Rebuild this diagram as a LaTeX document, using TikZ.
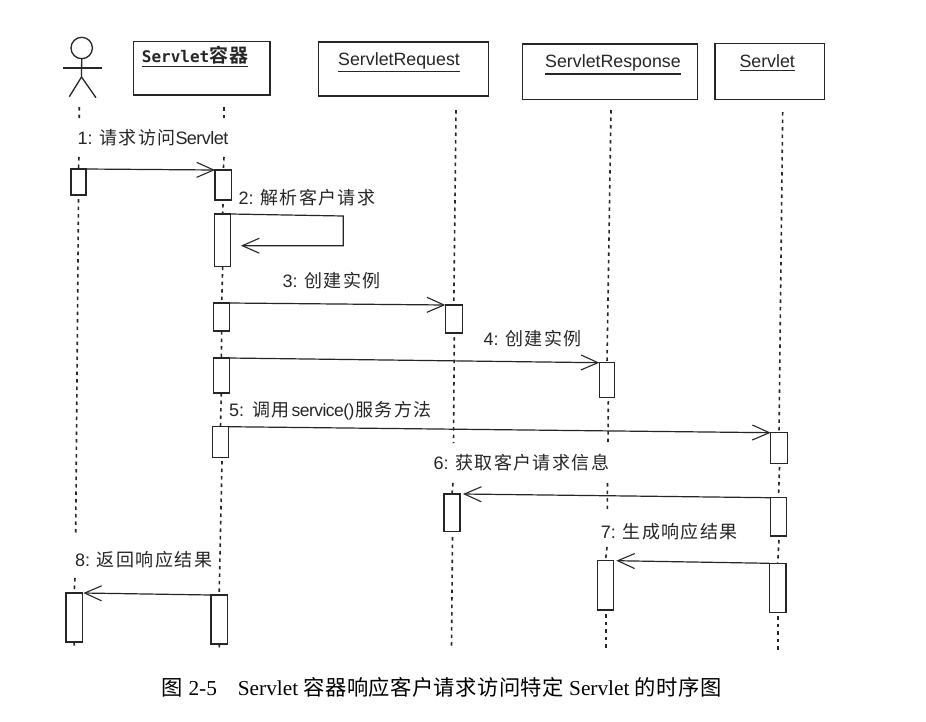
\documentclass[tikz,border=0pt]{standalone}
\usepackage{fontspec}
\usetikzlibrary{arrows.meta}
\setmainfont{Liberation Sans}
\newfontfamily\cjk[LetterSpace=8]{Noto Sans CJK SC}
\newfontfamily\cjkbold[LetterSpace=5]{Noto Sans CJK SC Bold}
\newfontfamily\capcjk[LetterSpace=2]{Noto Sans CJK SC}
\newfontfamily\monob{DejaVu Sans Mono Bold}
\newfontfamily\capserif{Liberation Serif}
\newfontfamily\tight[LetterSpace=-3]{Liberation Sans}
\definecolor{ink}{HTML}{262626}
% rectangle node given by its corners
\newcommand\rectnode[6]{%
  \pgfmathsetmacro\rw{#5-#3}\pgfmathsetmacro\rh{#6-#4}%
  \pgfmathsetmacro\rx{(#5+#3)/2}\pgfmathsetmacro\ry{(#6+#4)/2}%
  \node[#1,minimum width=\rw pt,minimum height=\rh pt] (#2) at (\rx,\ry) {};}
\newcommand\ulbox[1]{\vtop{\hbox{#1}\kern2.2pt\hrule height 1.3pt}}
\tikzset{
  x=1pt,y=-1pt,
  headbox/.style={draw=ink,line width=1.4pt,inner sep=0pt,outer sep=0pt},
  actbox/.style={draw=ink,line width=1.3pt,fill=white,inner sep=0pt,outer sep=0pt},
  life/.style={draw=ink,line width=1.6pt,dash pattern=on 3.5pt off 4pt},
  msg/.style={draw=ink,line width=1.2pt,-{Straight Barb[length=17pt,width=15pt,line width=1.1pt]}},
  lab/.style={anchor=base west,inner sep=0pt,text=ink,font=\fontsize{18}{20}\selectfont},
  head/.style={anchor=base west,inner sep=0pt,text=ink,font=\fontsize{17.8}{20}\selectfont},
  stick/.style={draw=ink,line width=1.3pt},
  caption/.style={anchor=base west,inner sep=0pt,text=black,font=\fontsize{21.3}{24}\capserif}
}
\begin{document}
\begin{tikzpicture}
\useasboundingbox (0,0) rectangle (926,721);
\fill[white] (0,0) rectangle (926,721);

% actor figure
\node[circle,stick,minimum size=21.4pt,inner sep=0pt,outer sep=0pt] (head) at (81.7,48) {};
\coordinate (armL) at (63.3,68);
\coordinate (armR) at (101.7,68);
\coordinate (hip) at (81.5,77);
\coordinate (legL) at (69.3,96.7);
\coordinate (legR) at (96,97.7);
\draw[stick] (head.south) -- (hip);
\draw[stick] (armL) -- (armR);
\draw[stick] (legL) -- (hip) -- (legR);

% object headers
\rectnode{headbox}{hc}{133.3}{41.7}{270}{95}
\rectnode{headbox}{hq}{318.3}{42}{488.3}{96}
\rectnode{headbox}{hp}{522.3}{44}{697.7}{99.3}
\rectnode{headbox}{hs}{715}{43.3}{824.3}{99.3}
\node[head] (tc) at (141.7,62) {\ulbox{\fontsize{16}{18}\monob Servlet\fontsize{19}{20}\cjkbold 容器}};
\node[head] (tq) at (338,65) {\ulbox{ServletRequest}};
\node[head] (tp) at (545,67.5) {\ulbox{ServletResponse}};
\node[head] (ts) at (739.3,67.5) {\ulbox{Servlet}};

% activation bars
\rectnode{actbox}{a1}{71}{169}{86}{195}
\rectnode{actbox}{a2}{66}{593}{82.3}{642}
\rectnode{actbox}{c1}{215}{170}{231.7}{200}
\rectnode{actbox}{c2}{214.7}{214}{230.7}{266.7}
\rectnode{actbox}{c3}{213.7}{303}{229.7}{331}
\rectnode{actbox}{c4}{213.3}{358}{229.3}{393}
\rectnode{actbox}{c5}{212.3}{426.7}{228.7}{457.3}
\rectnode{actbox}{c6}{211}{595}{227.3}{644}
\rectnode{actbox}{q1}{445.3}{305}{462.3}{333}
\rectnode{actbox}{q2}{444}{494}{460}{531.7}
\rectnode{actbox}{p1}{599.3}{362.7}{614.7}{397.7}
\rectnode{actbox}{p2}{597.7}{560.7}{613.3}{610}
\rectnode{actbox}{s1}{770.7}{432.7}{787.3}{463.3}
\rectnode{actbox}{s2}{770.3}{497.7}{786.7}{536}
\rectnode{actbox}{s3}{769.3}{563.3}{786}{612.3}

% lifeline ends that stop short of a header or a label
\coordinate (la0) at (79.3,107);
\coordinate (la1) at (79.2,119);
\coordinate (la2) at (79,157);
\coordinate (la3) at (78.5,199);
\coordinate (la4) at (75.7,533);
\coordinate (la5) at (75,578);
\coordinate (la6) at (74.3,648);
\coordinate (lc0) at (224,107);
\coordinate (lc1) at (224,119);
\coordinate (lc2) at (224,157);
\coordinate (lc3) at (223,204);
\coordinate (lc4) at (222,461);
\coordinate (lc5) at (219.5,649);
\coordinate (lq0) at (456,110);
\coordinate (lq1) at (454.3,337);
\coordinate (lq2) at (453.5,443);
\coordinate (lq3) at (453,483);
\coordinate (lq4) at (452.5,537);
\coordinate (lq5) at (451.5,648);
\coordinate (lp0) at (611,110);
\coordinate (lp1) at (608.3,401);
\coordinate (lp2) at (608,445);
\coordinate (lp3) at (607.5,483);
\coordinate (lp4) at (607.3,509);
\coordinate (lp5) at (607,547);
\coordinate (lp6) at (606,614);
\coordinate (lp7) at (606,651);
\coordinate (ls0) at (782.7,112);
\coordinate (ls1) at (779.5,467);
\coordinate (ls2) at (779,540);
\coordinate (ls3) at (778,616);
\coordinate (ls4) at (778,653);

\draw[life] (la0) -- (la1);
\draw[life] (la2) -- (a1.north);
\draw[life] (la3) -- (la4);
\draw[life] (la5) -- (a2.north);
\draw[life] (a2.south) -- (la6);
\draw[life] (lc0) -- (lc1);
\draw[life] (lc2) -- (c1.north);
\draw[life] (lc3) -- (c2.north);
\draw[life] (c2.south) -- (c3.north);
\draw[life] (c3.south) -- (c4.north);
\draw[life] (c4.south) -- (c5.north);
\draw[life] (lc4) -- (c6.north);
\draw[life] (c6.south) -- (lc5);
\draw[life] (lq0) -- (q1.north);
\draw[life] (lq1) -- (lq2);
\draw[life] (lq3) -- (q2.north);
\draw[life] (lq4) -- (lq5);
\draw[life] (lp0) -- (p1.north);
\draw[life] (lp1) -- (lp2);
\draw[life] (lp3) -- (lp4);
\draw[life] (lp5) -- (p2.north);
\draw[life] (lp6) -- (lp7);
\draw[life] (ls0) -- (s1.north);
\draw[life] (ls1) -- (s2.north);
\draw[life] (ls2) -- (s3.north);
\draw[life] (ls3) -- (ls4);

% messages
\coordinate (loopA) at (343.3,216);
\coordinate (loopB) at (343.3,245.7);
\coordinate (loopTip) at (241,245.7);
\draw[msg] (a1.north east) -- (c1.north west);
\draw[msg] (c2.north east) -- (loopA) -- (loopB) -- (loopTip);
\draw[msg] (c3.north east) -- (q1.north west);
\draw[msg] (c4.north east) -- (p1.north west);
\draw[msg] (c5.north east) -- (s1.north west);
\draw[msg] (s2.north west) -- ([xshift=3pt]q2.north east);
\draw[msg] (s3.north west) -- ([xshift=3pt]p2.north east);
\draw[msg] (c6.north west) -- ([xshift=1pt]a2.north east);

% message labels
\node[lab] (m1) at (77.3,144) {1: {\cjk 请求访问}{\tight Servlet}};
\node[lab] (m2) at (238.3,204) {2: {\cjk 解析客户请求}};
\node[lab] (m3) at (282.3,287.7) {3: {\cjk 创建实例}};
\node[lab] (m4) at (483.3,345) {4: {\cjk 创建实例}};
\node[lab] (m5) at (229,416.7) {5:\hspace{8pt}{\cjk 调用}\hspace{2pt}{\fontsize{17.5}{20}\tight service()}\hspace{1pt}{\cjk 服务方法}};
\node[lab] (m6) at (433.3,469) {6: {\cjk 获取客户请求信息}};
\node[lab] (m7) at (600.7,538) {7: {\cjk 生成响应结果}};
\node[lab] (m8) at (75,566) {8: {\cjk 返回响应结果}};

% figure caption
\node[caption] (cap) at (161.7,695) {{\capcjk 图} 2-5\hspace{21pt}Servlet {\capcjk 容器响应客户请求访问特定} Servlet {\capcjk 的时序图}};
\end{tikzpicture}
\end{document}
